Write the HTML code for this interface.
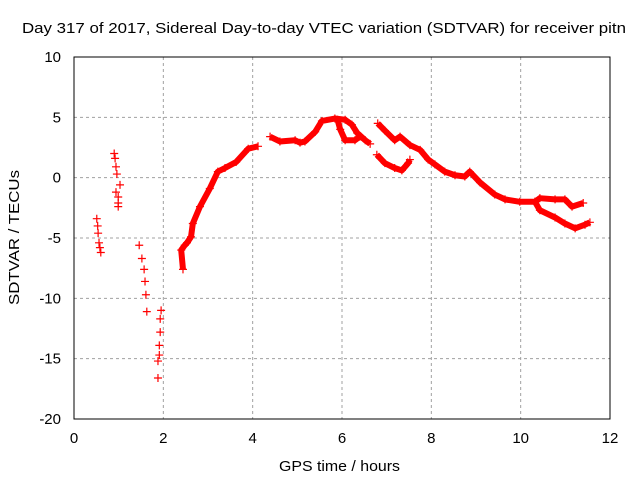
<!DOCTYPE html>
<html><head><meta charset="utf-8"><style>
body{margin:0;background:#fff}
svg text{font-family:"Liberation Sans",sans-serif;font-size:15px;fill:#000}
</style></head><body>
<svg id="chart" width="640" height="480" xmlns="http://www.w3.org/2000/svg">
<text x="22" y="33" textLength="604" lengthAdjust="spacingAndGlyphs">Day 317 of 2017, Sidereal Day-to-day VTEC variation (SDTVAR) for receiver pitn</text>
<g id="grid"></g><g id="ticks"></g><g id="marks"></g>
<rect x="74" y="57" width="536" height="362" fill="none" stroke="#000"/>
<text x="279" y="471" textLength="121" lengthAdjust="spacingAndGlyphs">GPS time / hours</text>
<text transform="translate(19,305) rotate(-90)" textLength="135" lengthAdjust="spacingAndGlyphs">SDTVAR / TECUs</text>
</svg>
<script>
const xTicks=[0,2,4,6,8,10,12];
const yTicks=[10,5,0,-5,-10,-15,-20];
const seg1H=[0.51,0.53,0.54,0.56,0.58,0.60];
const seg1V=[-3.4,-4.0,-4.6,-5.4,-5.8,-6.2];
const seg2H=[0.90,0.92,0.94,0.96,0.94,1.03,0.99,0.99,0.99];
const seg2V=[2.0,1.6,0.9,0.3,-1.2,-0.6,-1.6,-2.1,-2.4];
const seg3H=[1.46,1.52,1.57,1.59,1.61,1.63];
const seg3V=[-5.6,-6.7,-7.6,-8.6,-9.7,-11.1];
const seg4H=[1.95,1.93,1.93,1.91,1.91,1.88,1.88];
const seg4V=[-11.0,-11.7,-12.8,-13.9,-14.7,-15.2,-16.6];
const seg5H=[2.44,2.40,2.48,2.53,2.62,2.66,2.82,3.04,3.22,3.38,3.63,3.90,4.12];
const seg5V=[-7.6,-6.0,-5.6,-5.4,-4.9,-3.8,-2.4,-0.9,0.5,0.8,1.3,2.4,2.6];
const seg6H=[4.39,4.61,4.95,5.06,5.17,5.40,5.55,5.84,6.07,6.22,6.34,6.52,6.63];
const seg6V=[3.4,3.0,3.1,2.9,3.0,3.8,4.7,4.9,4.8,4.4,3.7,3.1,2.8];
const seg6bH=[5.90,5.96,6.07,6.29,6.40];
const seg6bV=[4.8,4.0,3.1,3.1,3.4];
const seg7H=[6.80,6.96,7.18,7.30,7.52,7.75,7.93,8.08,8.30,8.53,8.75,8.86,9.09,9.42,9.65,9.98,10.32,10.43,10.77,10.99,11.15,11.40];
const seg7V=[4.5,3.9,3.1,3.4,2.7,2.3,1.5,1.1,0.5,0.2,0.1,0.5,-0.4,-1.4,-1.8,-2.0,-2.0,-1.7,-1.8,-1.8,-2.4,-2.1];
const seg7bH=[10.32,10.43,10.77,10.99,11.22,11.44,11.55];
const seg7bV=[-2.0,-2.7,-3.3,-3.8,-4.2,-3.9,-3.7];
const seg8H=[6.78,6.96,7.18,7.34,7.48,7.52];
const seg8V=[1.9,1.2,0.8,0.6,1.2,1.5];
const segments=[[seg1H,seg1V,false],[seg2H,seg2V,false],[seg3H,seg3V,false],[seg4H,seg4V,false],[seg5H,seg5V,true],[seg6H,seg6V,true],[seg6bH,seg6bV,true],[seg7H,seg7V,true],[seg7bH,seg7bV,true],[seg8H,seg8V,true]];
const NS="http://www.w3.org/2000/svg";
const xs=h=>74+h*536/12;
const ys=v=>57+(10-v)*362/30;
function mk(tag,attrs,parent){const e=document.createElementNS(NS,tag);for(const k in attrs)e.setAttribute(k,attrs[k]);parent.appendChild(e);return e;}
const grid=document.getElementById('grid'),ticks=document.getElementById('ticks'),marks=document.getElementById('marks');
xTicks.forEach(t=>{const x=xs(t);
 if(t>0&&t<12){const l=mk('line',{x1:x,y1:57,x2:x,y2:419,stroke:'#a0a0a0','stroke-dasharray':'3,3'},grid);
 
 }
 const tl=mk('text',{x:x,y:443,'text-anchor':'middle'},ticks);tl.textContent=t;
 
 });
yTicks.forEach(t=>{const y=ys(t);
 if(t<10&&t>-20){const l=mk('line',{x1:74,y1:y,x2:610,y2:y,stroke:'#a0a0a0','stroke-dasharray':'3,3'},grid);
 
 }
 const tl=mk('text',{x:61,y:y+5,'text-anchor':'end'},ticks);tl.textContent=t;
 
 });
segments.forEach(([H,V,dense])=>{
 if(dense){const p=mk('polyline',{points:H.map((h,i)=>xs(h)+','+ys(V[i])).join(' '),fill:'none',stroke:'#f00','stroke-width':6,'stroke-linejoin':'round'},marks);
 
 }
 H.forEach((h,i)=>{const x=xs(h),y=ys(V[i]);
  const m=mk('path',{d:`M${x-4},${y}H${x+4}M${x},${y-4}V${y+4}`,stroke:'#f00','stroke-width':1.2},marks);
  
  });
});
</script>
</body></html>
